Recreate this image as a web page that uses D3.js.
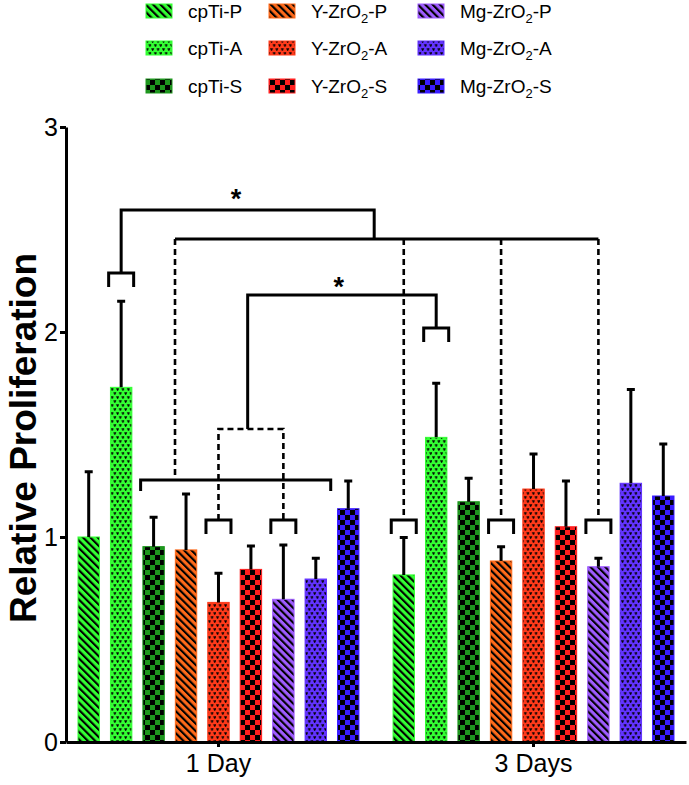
<!DOCTYPE html>
<html>
<head>
<meta charset="utf-8">
<script src="https://cdn.jsdelivr.net/npm/d3@7"></script>
<style>
  body { margin: 0; background: #fff; }
  svg { font-family: "Liberation Sans", Arial, sans-serif; }
</style>
</head>
<body>
<div id="chart"></div>
<script>
// chart data
var groups = ["1 Day", "3 Days"];
var series = ["cpTi-P", "cpTi-A", "cpTi-S", "Y-ZrO2-P", "Y-ZrO2-A", "Y-ZrO2-S", "Mg-ZrO2-P", "Mg-ZrO2-A", "Mg-ZrO2-S"];
var day1Mean = [1.00, 1.73, 0.953, 0.937, 0.681, 0.842, 0.696, 0.795, 1.138];
var day1Sd   = [0.318, 0.42, 0.143, 0.273, 0.142, 0.114, 0.265, 0.101, 0.135];
var day3Mean = [0.815, 1.486, 1.172, 0.883, 1.234, 1.05, 0.855, 1.262, 1.20];
var day3Sd   = [0.183, 0.264, 0.114, 0.07, 0.171, 0.223, 0.041, 0.458, 0.254];
var yTicks = [0, 1, 2, 3];

// significance annotations: points are [group, bar position, value]
var bracketLines = [
  { pts: [[0, 1, 2.288], [0, 1, 2.595], [0, 8.8, 2.595], [0, 8.8, 2.454]], dashed: false },
  { pts: [[0, 2.66, 2.454], [1, 6, 2.454]], dashed: false },
  { pts: [[0, 2.66, 2.454], [0, 2.66, 1.278]], dashed: true },
  { pts: [[1, 0, 2.454], [1, 0, 1.083]], dashed: true },
  { pts: [[1, 3, 2.454], [1, 3, 1.083]], dashed: true },
  { pts: [[1, 6, 2.454], [1, 6, 1.083]], dashed: true },
  { pts: [[0, 1.6, 1.224], [0, 1.6, 1.278], [0, 7.46, 1.278], [0, 7.46, 1.224]], dashed: false },
  { pts: [[0, 4.9, 1.527], [0, 4.9, 2.18], [1, 1, 2.18], [1, 1, 2.02]], dashed: false },
  { pts: [[0, 4, 1.083], [0, 4, 1.527], [0, 6, 1.527], [0, 6, 1.083]], dashed: true }
];
var caps = [[0, 1, 2.288], [0, 4, 1.083], [0, 6, 1.083], [1, 0, 1.083], [1, 3, 1.083], [1, 6, 1.083], [1, 1, 2.02]];
var stars = [[0, 4.54, 2.673], [0, 7.71, 2.244]];

var colors = ["#33ff33", "#33ff33", "#1e961e", "#ff6a1a", "#ff3a1a", "#ff1f1f", "#9f5cff", "#6233ff", "#3a1cff"];
var kinds = ["P", "A", "S", "P", "A", "S", "P", "A", "S"];

var svgWidth = 689, svgHeight = 785;
var svg = d3.select("#chart").append("svg")
    .attr("width", svgWidth)
    .attr("height", svgHeight);

// patterns for the bars
var defs = svg.append("defs");
series.forEach(function(s, i) {
  var id = "pat" + i;
  var c = colors[i];
  var p;
  if (kinds[i] == "P") {
    p = defs.append("pattern").attr("id", id).attr("patternUnits", "userSpaceOnUse")
      .attr("width", 5.2).attr("height", 5.2).attr("patternTransform", "rotate(-45)");
    p.append("rect").attr("width", 5.2).attr("height", 5.2).attr("fill", c);
    p.append("rect").attr("width", 2.1).attr("height", 5.2).attr("fill", "#000");
  } else if (kinds[i] == "A") {
    // small heart / "v" marks, staggered rows
    p = defs.append("pattern").attr("id", id).attr("patternUnits", "userSpaceOnUse")
      .attr("width", 5.4).attr("height", 8);
    p.append("rect").attr("width", 5.4).attr("height", 8).attr("fill", c);
    p.append("path")
      .attr("d", "M0.3,0.6 L1.3,0.6 L1.5,1.1 L1.7,0.6 L2.7,0.6 L1.5,3 Z M3,4.6 L4,4.6 L4.2,5.1 L4.4,4.6 L5.4,4.6 L4.2,7 Z")
      .attr("fill", "#000").attr("stroke", "#000").attr("stroke-width", 0.5);
  } else {
    p = defs.append("pattern").attr("id", id).attr("patternUnits", "userSpaceOnUse")
      .attr("width", 10).attr("height", 10);
    p.append("rect").attr("width", 10).attr("height", 10).attr("fill", c);
    p.append("rect").attr("width", 5).attr("height", 5).attr("fill", "#000");
    p.append("rect").attr("x", 5).attr("y", 5).attr("width", 5).attr("height", 5).attr("fill", "#000");
  }
});

// scales
var y = d3.scaleLinear().domain([0, 3]).range([742, 127]);
var x0 = d3.scaleBand().domain(groups).range([66, 686]).paddingInner(0.1).paddingOuter(0.034);
var x1 = d3.scaleBand().domain(series).range([0, x0.bandwidth()]).paddingInner(0.34).paddingOuter(0.04);

function xPos(g, i) {
  return x0(groups[g]) + x1(series[0]) + i * x1.step() + x1.bandwidth() / 2;
}

var table = [];
groups.forEach(function(g, gi) {
  var means = gi == 0 ? day1Mean : day3Mean;
  var sds = gi == 0 ? day1Sd : day3Sd;
  series.forEach(function(s, si) {
    table.push({ group: g, series: s, idx: si, mean: means[si], sd: sds[si] });
  });
});

// bars
svg.append("g").selectAll("rect")
  .data(table)
  .enter()
  .append("rect")
  .attr("x", d => x0(d.group) + x1(d.series))
  .attr("y", d => y(d.mean))
  .attr("width", x1.bandwidth())
  .attr("height", d => y(0) - y(d.mean))
  .attr("fill", d => "url(#pat" + d.idx + ")")
  .attr("stroke", d => colors[d.idx])
  .attr("stroke-width", 1);

// error bars (upper only)
var err = svg.append("g").attr("stroke", "#000").attr("stroke-width", 3).attr("fill", "none");
err.selectAll("path")
  .data(table)
  .enter()
  .append("path")
  .attr("d", function(d) {
    var cx = x0(d.group) + x1(d.series) + x1.bandwidth() / 2;
    var top = y(d.mean + d.sd);
    return "M" + cx + "," + y(d.mean) + "V" + top + "M" + (cx - 4) + "," + top + "H" + (cx + 4);
  });

// axes
var yAxis = d3.axisLeft(y).tickValues(yTicks).tickSize(6).tickSizeOuter(0).tickPadding(2).tickFormat(d3.format("d"));
var gy = svg.append("g").attr("transform", "translate(66,0)").call(yAxis);
var xAxis = d3.axisBottom(x0).tickSize(5).tickSizeOuter(0).tickPadding(7);
var gx = svg.append("g").attr("transform", "translate(0,742)").call(xAxis);
[gx, gy].forEach(function(g) {
  g.select(".domain").attr("stroke-width", 3);
  g.selectAll(".tick line").attr("stroke-width", 3);
  g.selectAll(".tick text").style("font-size", "25px").attr("fill", "#000")
    .style("font-family", "'Liberation Sans', Arial, sans-serif");
});

// y title
svg.append("text")
  .attr("transform", "translate(36,438) rotate(-90)")
  .attr("text-anchor", "middle")
  .style("font-size", "37px")
  .style("font-weight", "bold")
  .text("Relative Proliferation");

// significance brackets
var line = d3.line().x(p => xPos(p[0], p[1])).y(p => y(p[2]));
var br = svg.append("g").attr("fill", "none").attr("stroke", "#000");
br.selectAll("path.b")
  .data(bracketLines)
  .enter()
  .append("path")
  .attr("class", "b")
  .attr("d", d => line(d.pts))
  .attr("stroke-width", d => d.dashed ? 2.6 : 3)
  .attr("stroke-dasharray", d => d.dashed ? "6,4" : null);
br.selectAll("path.c")
  .data(caps)
  .enter()
  .append("path")
  .attr("class", "c")
  .attr("stroke-width", 3)
  .attr("d", function(c) {
    var cx = xPos(c[0], c[1]);
    var cy = y(c[2]);
    return "M" + (cx - 12.5) + "," + (cy + 14) + "V" + cy + "H" + (cx + 12.5) + "V" + (cy + 14);
  });
svg.append("g").selectAll("text")
  .data(stars)
  .enter()
  .append("text")
  .attr("x", s => xPos(s[0], s[1]))
  .attr("y", s => y(s[2]) + 14)
  .attr("text-anchor", "middle")
  .style("font-size", "27px")
  .style("font-weight", "bold")
  .text("*");

// legend
var legCols = [146, 269, 418];
var legRows = [11, 48, 86];
var leg = svg.append("g");
series.forEach(function(s, i) {
  var col = Math.floor(i / 3), row = i % 3;
  var lx = legCols[col], ly = legRows[row];
  leg.append("rect")
    .attr("x", lx).attr("y", ly - 7)
    .attr("width", 26).attr("height", 14)
    .attr("fill", "url(#pat" + i + ")")
    .attr("stroke", colors[i]).attr("stroke-width", 1);
  var t = leg.append("text")
    .attr("x", lx + 42).attr("y", ly + 7)
    .style("font-size", "19px");
  var parts = s.split("2");
  if (parts.length > 1) {
    t.append("tspan").text(parts[0]);
    t.append("tspan").attr("dy", 5).style("font-size", "13px").text("2");
    t.append("tspan").attr("dy", -5).text(parts[1]);
  } else {
    t.text(s);
  }
});
</script>
</body>
</html>
